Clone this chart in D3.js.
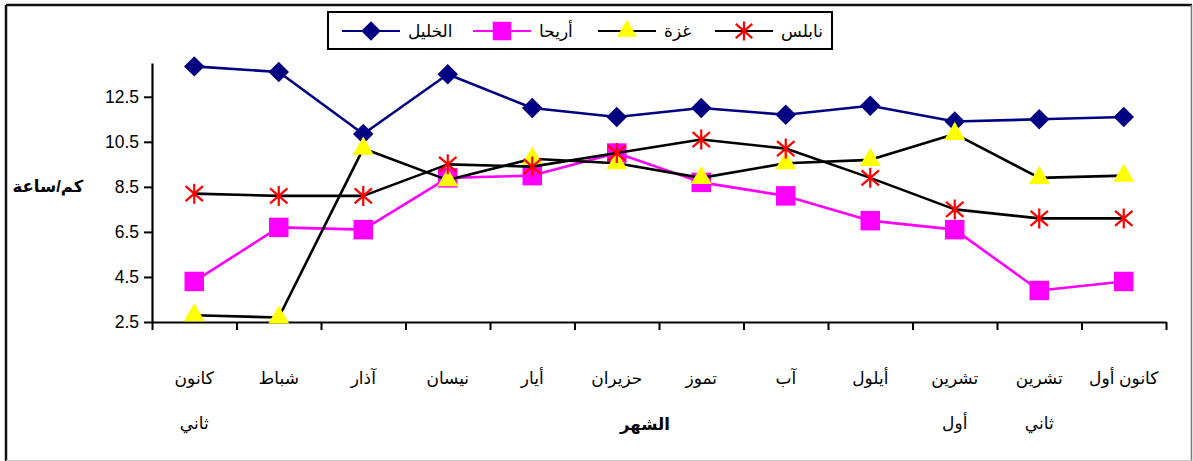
<!DOCTYPE html>
<html>
<head>
<meta charset="utf-8">
<script src="https://cdn.jsdelivr.net/npm/d3@7"></script>
<style>
  html, body { margin: 0; padding: 0; background: #fff; }
  svg { display: block; font-family: "Liberation Sans", Arial, "DejaVu Sans", sans-serif; }
</style>
</head>
<body>
<svg id="chart" width="1193" height="461"></svg>
<script>
// Months (left to right), each label split into its display lines
const months = ["كانون ثاني", "شباط", "آذار", "نيسان", "أيار", "حزيران", "تموز", "آب", "أيلول", "تشرين أول", "تشرين ثاني", "كانون أول"];
const monthLines = [["كانون", "ثاني"], ["شباط"], ["آذار"], ["نيسان"], ["أيار"], ["حزيران"], ["تموز"], ["آب"], ["أيلول"], ["تشرين", "أول"], ["تشرين", "ثاني"], ["كانون أول"]];

// Wind speed (km/h) per city
const khalil  = [13.85, 13.6, 10.85, 13.5, 12.0, 11.6, 12.0, 11.7, 12.1, 11.4, 11.5, 11.6];
const jericho = [4.3, 6.7, 6.6, 8.9, 9.0, 10.0, 8.7, 8.1, 7.0, 6.6, 3.9, 4.3];
const gaza    = [2.8, 2.7, 10.2, 8.8, 9.75, 9.55, 8.9, 9.55, 9.7, 10.85, 8.9, 9.0];
const nablus  = [8.2, 8.1, 8.1, 9.5, 9.4, 10.0, 10.6, 10.2, 8.9, 7.5, 7.1, 7.1];

const seriesNames = ["الخليل", "أريحا", "غزة", "نابلس"];
const yTicks = [2.5, 4.5, 6.5, 8.5, 10.5, 12.5];
const yTickLabels = ["2.5", "4.5", "6.5", "8.5", "10.5", "12.5"];
const yTitle = "كم/ساعة";
const xTitle = "الشهر";

const series = [
  { name: seriesNames[0], values: khalil,  line: "#000080", marker: "diamond",  fill: "#000080" },
  { name: seriesNames[1], values: jericho, line: "#FF00FF", marker: "square",   fill: "#FF00FF" },
  { name: seriesNames[2], values: gaza,    line: "#000000", marker: "triangle", fill: "#FFFF00" },
  { name: seriesNames[3], values: nablus,  line: "#000000", marker: "asterisk", fill: "#FF0000" }
];

const svg = d3.select("#chart");
const plot = { left: 152, right: 1166, top: 63, bottom: 322 };

// Outer frame: dark top/left edges, soft grey right/bottom edges
svg.append("line").attr("x1", 6).attr("x2", 1192).attr("y1", 5).attr("y2", 5).attr("stroke", "#111").attr("stroke-width", 2.5);
svg.append("line").attr("x1", 6).attr("x2", 6).attr("y1", 5).attr("y2", 461).attr("stroke", "#111").attr("stroke-width", 2.5);
svg.append("line").attr("x1", 1191.5).attr("x2", 1191.5).attr("y1", 5).attr("y2", 461).attr("stroke", "#777").attr("stroke-width", 1.5);
svg.append("line").attr("x1", 6).attr("x2", 1192).attr("y1", 460.5).attr("y2", 460.5).attr("stroke", "#ccc").attr("stroke-width", 1);

const x = d3.scaleBand().domain(months).range([plot.left, plot.right]).padding(0);
const xEdges = d3.scaleLinear().domain([0, months.length]).range([plot.left, plot.right]);
const y = d3.scaleLinear().domain([2.5, 14.0]).range([plot.bottom, plot.top]);
const cx = m => x(m) + x.bandwidth() / 2;

// Y axis
const yAxis = svg.append("g")
  .attr("transform", `translate(${plot.left},0)`)
  .call(d3.axisLeft(y).tickValues(yTicks).tickFormat((d, i) => yTickLabels[i]).tickSize(8).tickSizeOuter(0).tickPadding(5));
yAxis.select(".domain").attr("stroke", "#000").attr("stroke-width", 2.2);
yAxis.selectAll(".tick line").attr("stroke", "#000").attr("stroke-width", 2);
yAxis.selectAll(".tick text").attr("font-size", 17.5).attr("fill", "#000")
  .attr("font-family", "'Liberation Sans', Arial, sans-serif");

// X axis: tick marks on category boundaries
const xAxis = svg.append("g")
  .attr("transform", `translate(0,${plot.bottom})`)
  .call(d3.axisBottom(xEdges).tickValues(d3.range(months.length + 1)).tickFormat("").tickSize(8).tickSizeOuter(0));
xAxis.select(".domain").attr("stroke", "#000").attr("stroke-width", 2.2);
xAxis.selectAll(".tick line").attr("stroke", "#000").attr("stroke-width", 2);

// Month labels
const labels = svg.append("g").attr("font-size", 17).attr("fill", "#000");
months.forEach((m, i) => {
  const t = labels.append("text").attr("x", cx(m)).attr("text-anchor", "middle");
  monthLines[i].forEach((ln, j) => {
    t.append("tspan").attr("x", cx(m)).attr("y", 384 + j * 45).text(ln);
  });
});

// Axis titles
svg.append("text").attr("x", 645).attr("y", 430).attr("text-anchor", "middle")
  .attr("font-size", 16.5).attr("font-weight", "bold").text(xTitle);
svg.append("text").attr("x", 48).attr("y", 192).attr("text-anchor", "middle")
  .attr("font-size", 16.5).attr("font-weight", "bold").text(yTitle);

// Marker drawing
function drawMarker(g, type, fill, px, py, scale) {
  const s = scale || 1;
  if (type === "diamond") {
    g.append("path").attr("d", d3.symbol(d3.symbolSquare, 210 * s * s)())
      .attr("transform", `translate(${px},${py}) rotate(45)`).attr("fill", fill);
  } else if (type === "square") {
    g.append("path").attr("d", d3.symbol(d3.symbolSquare, 380 * s * s)())
      .attr("transform", `translate(${px},${py})`).attr("fill", fill);
  } else if (type === "triangle") {
    g.append("path").attr("d", d3.symbol(d3.symbolTriangle, 190 * s * s)())
      .attr("transform", `translate(${px},${py})`).attr("fill", fill);
  } else if (type === "asterisk") {
    const r = 10 * s;
    const d = `M0,${-r}L0,${r}M${-r * 0.87},${-r * 0.75}L${r * 0.87},${r * 0.75}M${-r * 0.87},${r * 0.75}L${r * 0.87},${-r * 0.75}`;
    g.append("path").attr("d", d).attr("transform", `translate(${px},${py})`)
      .attr("stroke", fill).attr("stroke-width", 2.2).attr("fill", "none");
  }
}

// Series lines and markers
const line = d3.line().x((d, i) => cx(months[i])).y(d => y(d));
series.forEach(s => {
  const g = svg.append("g");
  g.append("path").datum(s.values).attr("d", line)
    .attr("fill", "none").attr("stroke", s.line).attr("stroke-width", 2.6).attr("stroke-linejoin", "round");
  s.values.forEach((v, i) => drawMarker(g, s.marker, s.fill, cx(months[i]), y(v)));
});

// Legend
const lg = svg.append("g");
lg.append("rect").attr("x", 328).attr("y", 12).attr("width", 504).attr("height", 37)
  .attr("fill", "#fff").attr("stroke", "#000").attr("stroke-width", 2);
const legendX = [342, 473, 598, 715];
series.forEach((s, i) => {
  const x0 = legendX[i], ly = 31;
  lg.append("line").attr("x1", x0).attr("x2", x0 + 58).attr("y1", ly).attr("y2", ly)
    .attr("stroke", s.line).attr("stroke-width", 2.2);
  drawMarker(lg, s.marker, s.fill, x0 + 29, ly, 0.95);
  lg.append("text").attr("x", x0 + 66).attr("y", ly + 6).attr("font-size", 17).attr("fill", "#000").text(s.name);
});
</script>
</body>
</html>
